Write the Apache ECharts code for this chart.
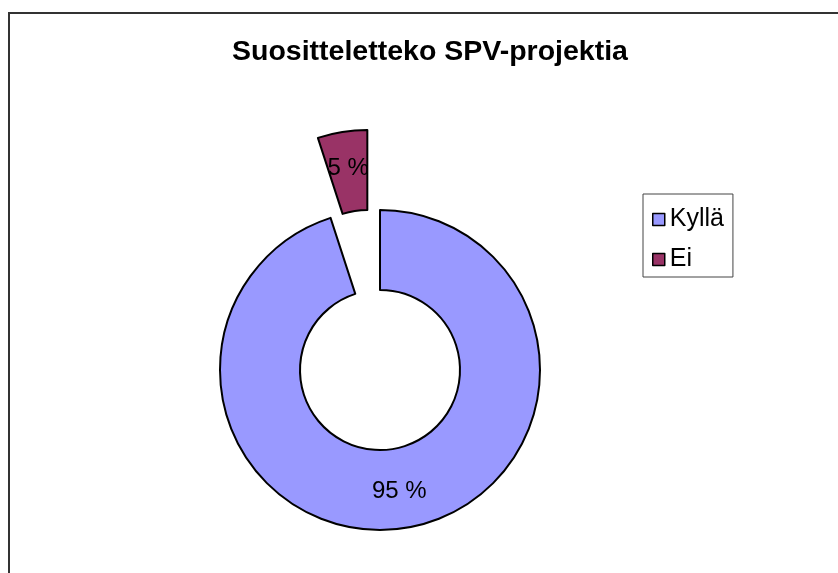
<!DOCTYPE html>
<html>
<head>
<meta charset="utf-8">
<script src="https://cdn.jsdelivr.net/npm/echarts@6/dist/echarts.min.js"></script>
<style>
  html, body { margin: 0; padding: 0; background: #fff; }
  #chart { width: 838px; height: 573px; }
</style>
</head>
<body>
<div id="chart"></div>
<script>
const categories = ["Kyllä", "Ei"];
const values = [95, 5];
const explodedSlice = "Ei";

const font = "'Liberation Sans', Arial, sans-serif";
const sliceColors = ["#9999FF", "#993366"];

const myChart = echarts.init(document.getElementById("chart"));

myChart.setOption({
  animation: false,
  backgroundColor: "#fff",
  title: {
    text: "Suositteletteko SPV-projektia",
    left: 227,
    top: 33,
    textStyle: {
      fontFamily: font,
      fontSize: 28.5,
      fontWeight: "bold",
      color: "#000",
    },
  },
  // outer frame of the chart area
  graphic: [
    {
      type: "rect",
      shape: { x: 9, y: 13, width: 1000, height: 1000 },
      style: { fill: "none", stroke: "#333", lineWidth: 2 },
      silent: true,
    },
  ],
  legend: {
    orient: "vertical",
    left: 643,
    top: 194,
    padding: [13, 9, 5, 9],
    itemGap: 15,
    itemWidth: 12,
    itemHeight: 12,
    icon: "rect",
    selectedMode: false,
    borderColor: "#444",
    borderWidth: 1,
    itemStyle: { borderColor: "#000", borderWidth: 1.5 },
    textStyle: { fontFamily: font, fontSize: 25, color: "#000" },
    data: categories,
  },
  series: [
    {
      type: "pie",
      center: [380, 370],
      radius: [80, 160],
      startAngle: 90,
      clockwise: true,
      selectedMode: "single",
      selectedOffset: 81,
      itemStyle: { borderColor: "#000", borderWidth: 2 },
      label: {
        show: true,
        position: "inner",
        formatter: "{c} %",
        fontFamily: font,
        fontSize: 24,
        color: "#000",
      },
      labelLine: { show: false },
      emphasis: { disabled: true },
      data: categories.map((name, i) => ({
        name: name,
        value: values[i],
        selected: name === explodedSlice,
        itemStyle: { color: sliceColors[i] },
      })),
    },
  ],
});
</script>
</body>
</html>
